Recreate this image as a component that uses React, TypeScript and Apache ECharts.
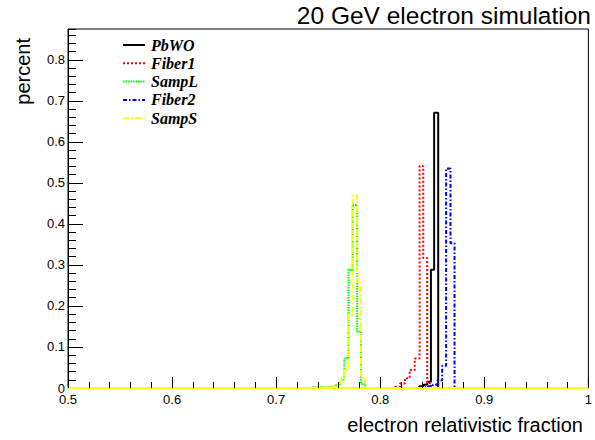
import React, { useEffect, useRef } from 'react';
import * as echarts from 'echarts';

// ---- data ----
const seriesNames = ['PbWO', 'Fiber1', 'SampL', 'Fiber2', 'SampS'];

// left bin edges, bin heights and right edge of the last non-empty bin
const pbwoEdges = [0.8375, 0.8415, 0.8453, 0.8487, 0.8518];
const pbwoValues = [0.004, 0.008, 0.015, 0.288, 0.671];
const pbwoEnd = 0.8557;

const fiber1Edges = [0.8142, 0.819, 0.8238, 0.8283, 0.8331, 0.8378, 0.8413, 0.8451];
const fiber1Values = [0.003, 0.011, 0.024, 0.044, 0.072, 0.541, 0.317, 0.012];
const fiber1End = 0.849;

const sampLEdges = [0.735, 0.7535, 0.7575, 0.7615, 0.7655, 0.7695, 0.7735, 0.7778, 0.7815];
const sampLValues = [0.002, 0.005, 0.008, 0.02, 0.072, 0.288, 0.446, 0.137, 0.01];
const sampLEnd = 0.7855;

const fiber2Edges = [0.8415, 0.846, 0.8506, 0.855, 0.8595, 0.8633, 0.8675];
const fiber2Values = [0.002, 0.004, 0.008, 0.018, 0.054, 0.535, 0.353];
const fiber2End = 0.8714;

const sampSEdges = [0.7455, 0.7535, 0.7575, 0.7615, 0.7655, 0.7695, 0.7735, 0.7778, 0.7815];
const sampSValues = [0.002, 0.004, 0.008, 0.02, 0.044, 0.178, 0.469, 0.259, 0.024];
const sampSEnd = 0.7855;

const xMin = 0.5;
const xMax = 1.0;
const yMax = 0.875;

const titleText = '20 GeV electron simulation';
const xTitle = 'electron relativistic fraction';
const yTitle = 'percent';

// ---- styles ----
const colors = ['#000000', '#ff0000', '#00ff00', '#0000ff', '#ffff00'];
const dashes: (string | number[])[] = ['solid', [2, 2], [1.5, 1], [4, 2, 1.5, 2], [6, 2, 2, 2]];
const SANS = '"Liberation Sans", Arial, sans-serif';
const SERIF = '"Liberation Serif", "Times New Roman", serif';

function histData(edges: number[], values: number[], end: number): number[][] {
  const d: number[][] = [[xMin, 0]];
  edges.forEach((e, i) => d.push([e, values[i]]));
  d.push([end, 0]);
  d.push([xMax, 0]);
  return d;
}

export default function App() {
  const ref = useRef<HTMLDivElement>(null);

  useEffect(() => {
    if (!ref.current) return;
    const chart = echarts.init(ref.current, null, { renderer: 'svg' });

    const allData = [
      histData(pbwoEdges, pbwoValues, pbwoEnd),
      histData(fiber1Edges, fiber1Values, fiber1End),
      histData(sampLEdges, sampLValues, sampLEnd),
      histData(fiber2Edges, fiber2Values, fiber2End),
      histData(sampSEdges, sampSValues, sampSEnd),
    ];

    const legendRows = [45, 63.3, 81.6, 99.9, 118.2];
    const legendGraphics: any[] = [];
    seriesNames.forEach((name, i) => {
      legendGraphics.push({
        type: 'line',
        shape: { x1: 123, y1: legendRows[i], x2: 145, y2: legendRows[i] },
        style: {
          stroke: colors[i],
          lineWidth: 2,
          lineDash: dashes[i] === 'solid' ? null : dashes[i],
        },
        z: 100,
      });
      legendGraphics.push({
        type: 'text',
        x: 151,
        y: legendRows[i],
        style: {
          text: name,
          fontFamily: SERIF,
          fontSize: 16,
          fontWeight: 'bold',
          fontStyle: 'italic',
          align: 'left',
          verticalAlign: 'middle',
          fill: '#000',
        },
        z: 100,
      });
    });

    chart.setOption({
      animation: false,
      backgroundColor: '#ffffff',
      title: {
        text: titleText,
        right: 4,
        top: 3,
        padding: 0,
        textStyle: { fontFamily: SANS, fontSize: 24.5, fontWeight: 'normal', color: '#000' },
      },
      grid: {
        left: 68,
        right: 5,
        top: 29,
        bottom: 52,
        show: true,
        borderColor: '#000',
        borderWidth: 1,
        backgroundColor: 'transparent',
      },
      xAxis: {
        type: 'value',
        min: xMin,
        max: xMax,
        interval: 0.1,
        z: 20,
        axisLine: { show: true, onZero: false, lineStyle: { color: '#ffff00', width: 2 } },
        axisTick: { show: true, inside: true, length: 11, lineStyle: { color: '#000' } },
        minorTick: { show: true, splitNumber: 5, length: 6, lineStyle: { color: '#000' } },
        axisLabel: {
          margin: 5,
          fontSize: 13,
          color: '#000',
          fontFamily: SANS,
          showMinLabel: true,
          showMaxLabel: true,
        },
        splitLine: { show: false },
        minorSplitLine: { show: false },
      },
      yAxis: [
        {
          type: 'value',
          min: 0,
          max: yMax,
          interval: 0.1,
          position: 'left',
          axisLine: { show: true, onZero: false, lineStyle: { color: '#000', width: 1 } },
          axisTick: { show: true, inside: true, length: 15, lineStyle: { color: '#000' } },
          axisLabel: {
            margin: 3,
            fontSize: 13,
            color: '#000',
            fontFamily: SANS,
            showMaxLabel: false,
          },
          splitLine: { show: false },
        },
        {
          type: 'value',
          min: 0,
          max: yMax,
          interval: 0.02,
          position: 'left',
          offset: 0,
          axisLine: { show: false },
          axisTick: { show: true, inside: true, length: 8, lineStyle: { color: '#000' } },
          axisLabel: { show: false },
          splitLine: { show: false },
        },
      ],
      graphic: [
        {
          type: 'text',
          x: 583,
          y: 425,
          style: {
            text: xTitle,
            fontFamily: SANS,
            fontSize: 20,
            align: 'right',
            verticalAlign: 'middle',
            fill: '#000',
          },
        },
        {
          type: 'text',
          x: 23,
          y: 38,
          rotation: Math.PI / 2,
          style: {
            text: yTitle,
            fontFamily: SANS,
            fontSize: 20,
            align: 'right',
            verticalAlign: 'middle',
            fill: '#000',
          },
        },
        ...legendGraphics,
      ],
      series: seriesNames.map((name, i) => ({
        type: 'line',
        name,
        data: allData[i],
        step: 'end',
        symbol: 'none',
        showSymbol: false,
        clip: false,
        xAxisIndex: 0,
        yAxisIndex: 0,
        z: 2 + i,
        lineStyle: { color: colors[i], width: 2, type: dashes[i], cap: 'butt' },
        emphasis: { disabled: true },
      })),
    });

    return () => chart.dispose();
  }, []);

  return (
    <div
      ref={ref}
      style={{ position: 'fixed', left: 0, top: 0, width: 595, height: 440, background: '#fff' }}
    />
  );
}
